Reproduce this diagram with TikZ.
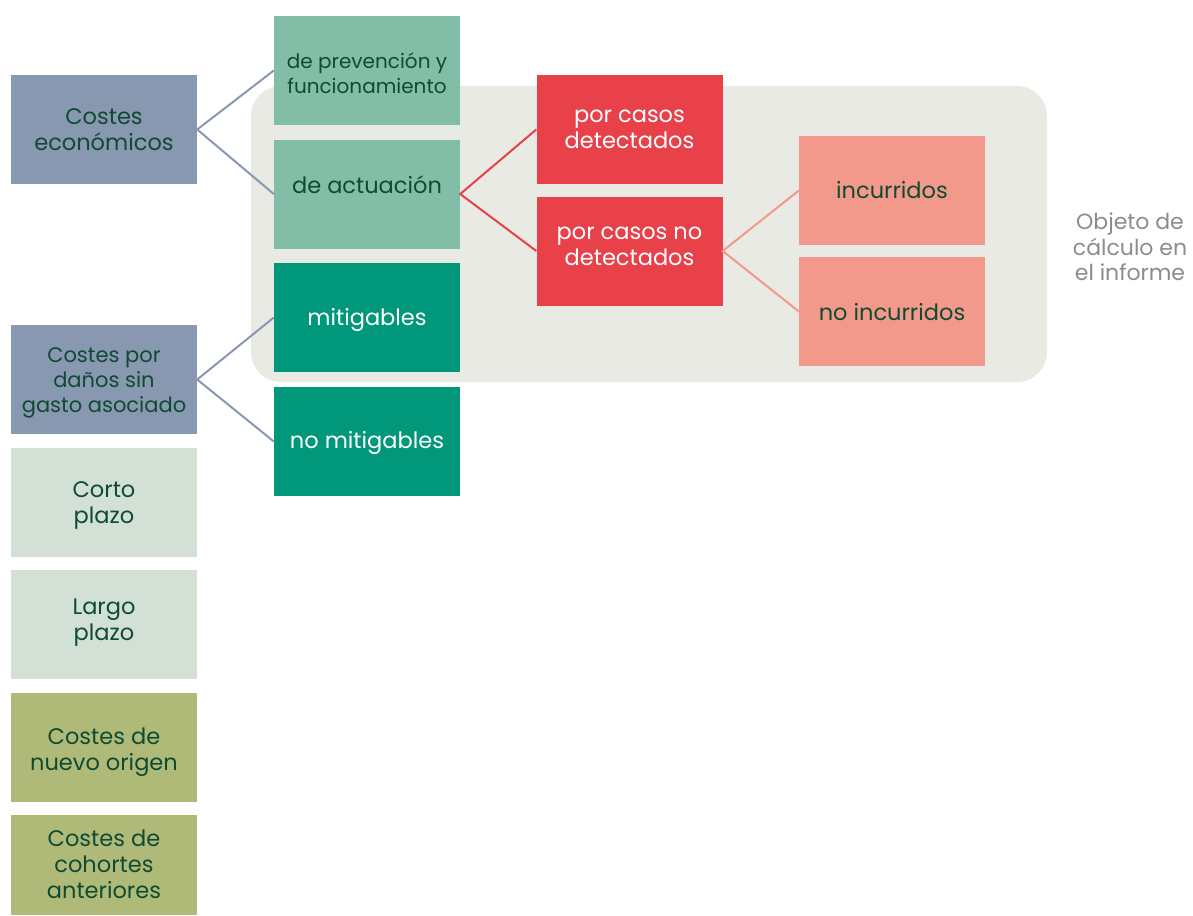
\documentclass[tikz,border=0pt]{standalone}
\usepackage{fontspec}
\setmainfont{Poppins}
\definecolor{bluegrey}{HTML}{8798B0}
\definecolor{lteal}{HTML}{82BDA8}
\definecolor{dteal}{HTML}{00977A}
\definecolor{cred}{HTML}{E8414A}
\definecolor{salmon}{HTML}{F2998B}
\definecolor{palegreen}{HTML}{D2E0D6}
\definecolor{olive}{HTML}{B0BA78}
\definecolor{bggrey}{HTML}{EAEAE5}
\definecolor{dkgreen}{HTML}{0F4B32}
\definecolor{lblgrey}{HTML}{8C8C8C}
% shift text visually by #1 while keeping its size
\newcommand{\vmove}[2]{\raisebox{#1}[\height][\depth]{\begin{tabular}{@{}c@{}}#2\end{tabular}}}
\tikzset{
  box/.style={rectangle, minimum width=186pt, minimum height=109pt, inner sep=0pt, align=center, text=dkgreen, font=\fontsize{22.5}{26}\selectfont},
  smalltxt/.style={font=\fontsize{20}{25}\selectfont},
  smallertxt/.style={font=\fontsize{21}{25}\selectfont},
  conn/.style={line width=2pt},
}
\begin{document}
\begin{tikzpicture}[x=1pt,y=-1pt]
\useasboundingbox (0,0) rectangle (1193,915);
\fill[bggrey, rounded corners=30pt] (251,86) rectangle (1047,382);
% column 1
\node[box, fill=bluegrey] (ce) at (104,129.5) {Costes\\económicos};
\node[box, fill=bluegrey, smallertxt] (cd) at (104,379.5) {\vmove{-3pt}{Costes por\\daños sin\\gasto asociado}};
\node[box, fill=palegreen] (cp) at (104,502) {\vmove{-3pt}{Corto\\plazo}};
\node[box, fill=palegreen] (lp) at (104,624.5) {\vmove{2pt}{Largo\\plazo}};
\node[box, fill=olive] (no) at (104,747) {\vmove{-5pt}{Costes de\\nuevo origen}};
\node[box, fill=olive, minimum height=100pt] (ca) at (104,864.5) {Costes de\\cohortes\\anteriores};
% column 2
\node[box, fill=lteal, smalltxt] (pf) at (367,70.5) {\vmove{-6pt}{de prevención y\\funcionamiento}};
\node[box, fill=lteal] (ac) at (367,194) {\vmove{5.5pt}{de actuación}};
\node[box, fill=dteal, text=white] (mi) at (367,317.5) {\vmove{-3pt}{mitigables}};
\node[box, fill=dteal, text=white] (nm) at (367,441.5) {\vmove{-2pt}{no mitigables}};
% column 3
\node[box, fill=cred, text=white] (pd) at (629.5,129.5) {por casos\\detectados};
\node[box, fill=cred, text=white] (pn) at (629.5,251) {\vmove{4pt}{por casos no\\detectados}};
% column 4
\node[box, fill=salmon] (in) at (892,190.5) {incurridos};
\node[box, fill=salmon] (ni) at (892,311.5) {\vmove{-4pt}{no incurridos}};
% label
\node[align=center, text=lblgrey, font=\fontsize{22}{25.5}\selectfont] (lbl) at (1130,247) {Objeto de\\cálculo en\\el informe};
% connectors
\draw[conn, bluegrey] (pf.west) -- (ce.east) -- (ac.west);
\draw[conn, bluegrey] (mi.west) -- (cd.east) -- (nm.west);
\draw[conn, cred] (pd.west) -- (ac.east) -- (pn.west);
\draw[conn, salmon] (in.west) -- (pn.east) -- (ni.west);
\end{tikzpicture}
\end{document}
